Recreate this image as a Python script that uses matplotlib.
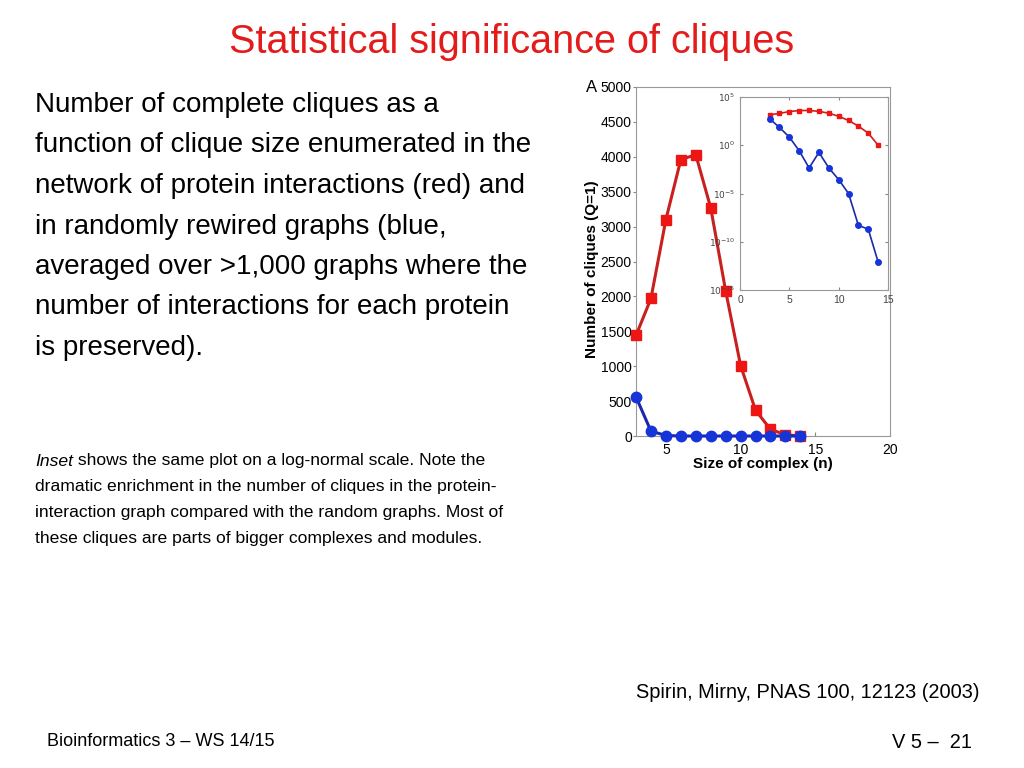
import numpy as np
import matplotlib
matplotlib.use("Agg")
import matplotlib.pyplot as plt
from matplotlib.ticker import FixedLocator, FuncFormatter

plt.rcParams['font.family'] = ['Liberation Sans', 'DejaVu Sans']

# clique size n
size_red = [3, 4, 5, 6, 7, 8, 9, 10, 11, 12, 13, 14]
size_blue = [3, 4, 5, 6, 7, 8, 9, 10, 11, 12, 13, 14]
# protein interaction network (red)
cliques_red = [1440, 1970, 3100, 3960, 4030, 3270, 2080, 1010, 370, 95, 18, 1]
# randomly rewired graphs (blue)
cliques_blue = [560, 70, 7, 0.27, 0.0045, 0.18, 0.0045, 2.8e-4, 1e-5, 5e-9, 2e-9, 8e-13]

title = "Statistical significance of cliques"
body = ["Number of complete cliques as a",
        "function of clique size enumerated in the",
        "network of protein interactions (red) and",
        "in randomly rewired graphs (blue,",
        "averaged over >1,000 graphs where the",
        "number of interactions for each protein",
        "is preserved)."]
small = [" shows the same plot on a log-normal scale. Note the",
         "dramatic enrichment in the number of cliques in the protein-",
         "interaction graph compared with the random graphs. Most of",
         "these cliques are parts of bigger complexes and modules."]

red_line = '#c8201e'
red_mk = '#ee1515'
blue_line = '#1a2aa8'
blue_mk = '#1535d8'

fig = plt.figure(figsize=(10.24, 7.68), dpi=100)
W, H = 1024, 768

def fx(px):
    return px / W

def fy(py):
    return 1 - py / H

fig.text(0.5, fy(42), title, color='#e31b1b', fontsize=28.5, ha='center', va='center')

for i, line in enumerate(body):
    fig.text(fx(35), fy(105 + 40.5 * i), line, fontsize=20, ha='left', va='center')

t = fig.text(fx(35), fy(461), "Inset", fontsize=12.6, style='italic', ha='left', va='center')
fig.canvas.draw()
bb = t.get_window_extent()
fig.text(bb.x1 / W, fy(461), small[0], fontsize=12.6, ha='left', va='center')
for i, line in enumerate(small[1:]):
    fig.text(fx(35), fy(487 + 25.7 * i), line, fontsize=12.6, ha='left', va='center')

fig.text(fx(979), fy(693), "Spirin, Mirny, PNAS 100, 12123 (2003)", fontsize=14.4,
         ha='right', va='center')
fig.text(fx(47), fy(742), "Bioinformatics 3 \u2013 WS 14/15", fontsize=13, ha='left', va='center')
fig.text(fx(972), fy(742), "V 5 \u2013  21", fontsize=14.4, ha='right', va='center')

# main axes
ax = fig.add_axes([fx(636), fy(436), fx(890 - 636), (436 - 87) / H])
ax.plot(size_red, cliques_red, '-s', color=red_line, lw=2.2, ms=6.5,
        mfc=red_mk, mec=red_mk, zorder=3, clip_on=False)
ax.plot(size_blue, [v if v > 1 else 0 for v in cliques_blue], '-o', color=blue_line, lw=2.2,
        ms=7.5, mfc=blue_mk, mec=blue_mk, zorder=4, clip_on=False)
ax.set_xlim(3, 20)
ax.set_ylim(0, 5000)
ax.set_xticks([5, 10, 15, 20])
ax.set_yticks(np.arange(0, 5001, 500))
ax.tick_params(axis='x', direction='in', labelsize=10, length=3, color='#888888', pad=5)
ax.tick_params(axis='y', direction='out', labelsize=10, length=2, color='#888888', pad=1)
for s in ax.spines.values():
    s.set_color('#999999')
    s.set_linewidth(0.8)
ax.set_xlabel("Size of complex (n)", fontsize=11, fontweight='bold', labelpad=0)
ax.set_ylabel("Number of cliques (Q=1)", fontsize=11, fontweight='bold')
ax.yaxis.set_label_coords(-0.145, 0.478)
fig.text(fx(592), fy(87), "A", fontsize=12, ha='center', va='center')

# inset
ins = fig.add_axes([fx(740), fy(290), fx(888 - 740), (290 - 97) / H])
ins.semilogy(size_red, cliques_red, '-s', color=red_line, lw=1.2, ms=3.5,
             mfc=red_mk, mec=red_mk)
ins.semilogy(size_blue, cliques_blue, '-o', color=blue_line, lw=1.2, ms=4,
             mfc=blue_mk, mec=blue_mk)
ins.set_xlim(0, 15)
ins.set_ylim(1e-15, 1e5)
ins.set_xticks([0, 5, 10, 15])
ins.yaxis.set_major_locator(FixedLocator([1e-15, 1e-10, 1e-5, 1e0, 1e5]))
ins.yaxis.set_minor_locator(FixedLocator([]))
ins.yaxis.set_major_formatter(FuncFormatter(lambda v, p: r'$10^{%d}$' % round(np.log10(v))))
ins.tick_params(axis='y', labelsize=6.5)
ins.tick_params(axis='x', labelsize=7.5)
ins.tick_params(direction='in', length=2.5, color='#888888',
                labelcolor='#444444', right=True, top=True)
for s in ins.spines.values():
    s.set_color('#999999')
    s.set_linewidth(0.8)

fig.savefig("out.png", dpi=100)
